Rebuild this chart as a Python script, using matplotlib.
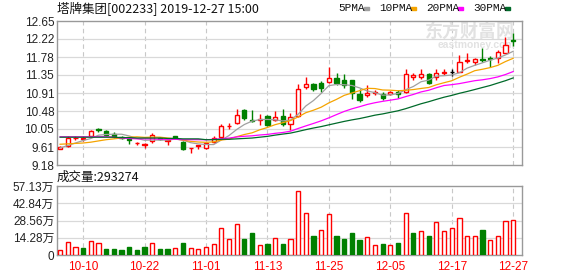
import numpy as np
import pandas as pd
import matplotlib
matplotlib.use("Agg")
import matplotlib.pyplot as plt

plt.rcParams['font.family'] = ['Liberation Sans', 'Noto Sans CJK SC', 'DejaVu Sans']

dates = ["09-30", "10-08", "10-09", "10-10", "10-11", "10-14", "10-15", "10-16", "10-17", "10-18",
         "10-21", "10-22", "10-23", "10-24", "10-25", "10-28", "10-29", "10-30", "10-31", "11-01",
         "11-04", "11-05", "11-06", "11-07", "11-08", "11-11", "11-12", "11-13", "11-14", "11-15",
         "11-18", "11-19", "11-20", "11-21", "11-22", "11-25", "11-26", "11-27", "11-28", "11-29",
         "12-02", "12-03", "12-04", "12-05", "12-06", "12-09", "12-10", "12-11", "12-12", "12-13",
         "12-16", "12-17", "12-18", "12-19", "12-20", "12-23", "12-24", "12-25", "12-26", "12-27"]

opens = [9.57, 9.63, 9.82, 9.80, 9.87, 10.04, 10.01, 9.93, 9.86, 9.80,
         9.70, 9.67, 9.76, 9.84, 9.77, 9.87, 9.74, 9.58, 9.64, 9.58,
         9.73, 9.86, 10.11, 10.19, 10.51, 10.26, 10.26, 10.37, 10.27, 10.37,
         10.17, 10.35, 11.07, 11.14, 11.16, 11.17, 11.28, 11.22, 11.22, 10.90,
         10.87, 10.91, 10.90, 10.89, 10.95, 10.94, 11.31, 11.30, 11.37, 11.30,
         11.40, 11.42, 11.43, 11.68, 11.65, 11.73, 11.76, 11.75, 11.89, 12.19]
highs = [9.63, 9.89, 9.89, 9.87, 10.03, 10.07, 10.03, 9.97, 9.88, 9.81,
         9.74, 9.70, 9.94, 9.86, 9.79, 9.89, 9.75, 9.60, 9.67, 9.72,
         9.89, 10.18, 10.19, 10.53, 10.53, 10.51, 10.42, 10.39, 10.49, 10.53,
         10.43, 11.12, 11.30, 11.15, 11.20, 11.54, 11.40, 11.37, 11.24, 11.01,
         11.11, 10.99, 10.95, 10.97, 10.99, 11.49, 11.40, 11.49, 11.40, 11.49,
         11.49, 11.49, 11.83, 11.87, 11.76, 11.99, 11.80, 11.94, 12.27, 12.37]
lows = [9.56, 9.62, 9.78, 9.77, 9.86, 9.98, 9.88, 9.84, 9.80, 9.68,
        9.66, 9.58, 9.72, 9.79, 9.65, 9.80, 9.55, 9.48, 9.57, 9.57,
        9.72, 9.85, 10.05, 10.18, 10.27, 10.21, 10.15, 10.11, 10.23, 10.11,
        10.02, 10.33, 11.01, 10.96, 10.95, 11.15, 11.11, 11.03, 10.76, 10.71,
        10.83, 10.86, 10.75, 10.86, 10.80, 10.92, 11.24, 11.25, 11.14, 11.23,
        11.36, 11.32, 11.42, 11.63, 11.60, 11.67, 11.55, 11.63, 11.87, 12.04]
closes = [9.62, 9.82, 9.84, 9.82, 9.99, 10.02, 9.91, 9.87, 9.82, 9.78,
          9.72, 9.69, 9.90, 9.81, 9.78, 9.84, 9.57, 9.59, 9.66, 9.71,
          9.83, 10.12, 10.13, 10.39, 10.31, 10.24, 10.30, 10.15, 10.34, 10.18,
          10.34, 11.01, 11.14, 11.00, 11.03, 11.28, 11.15, 11.11, 10.91, 10.74,
          10.91, 10.95, 10.80, 10.95, 10.90, 11.37, 11.34, 11.37, 11.15, 11.39,
          11.41, 11.42, 11.65, 11.70, 11.73, 11.71, 11.74, 11.91, 12.07, 12.17]

# volume in 万 (10k shares)
volumes = [4.1, 10.5, 6.3, 6.1, 11.3, 9.7, 5.0, 5.0, 4.1, 6.3,
           4.1, 6.6, 9.7, 5.0, 5.0, 5.5, 9.9, 5.5, 4.7, 6.3,
           8.8, 22.1, 13.0, 25.4, 13.2, 18.2, 8.3, 9.1, 13.8, 9.1,
           13.0, 53.0, 34.8, 15.7, 20.7, 33.9, 15.7, 13.2, 18.2, 12.7,
           14.6, 8.0, 9.1, 8.0, 9.9, 34.8, 18.2, 19.9, 15.7, 27.3,
           19.9, 22.4, 30.4, 15.5, 15.5, 20.7, 12.4, 15.5, 28.2, 29.3274]

# moving average values read off the chart where the window has no history yet
ma_heads = {
    5: [9.59, 9.65, 9.71, 9.77],
    10: [9.68, 9.69, 9.70, 9.71, 9.73, 9.76, 9.79, 9.81, 9.83],
    20: [9.86, 9.86, 9.86, 9.86, 9.86, 9.86, 9.86, 9.85, 9.83, 9.82,
         9.81, 9.81, 9.81, 9.80, 9.80, 9.80, 9.79, 9.79, 9.79],
    30: [9.85, 9.85, 9.85, 9.85, 9.85, 9.85, 9.85, 9.85, 9.84, 9.84,
         9.83, 9.83, 9.83, 9.83, 9.82, 9.82, 9.81, 9.81, 9.81, 9.79,
         9.79, 9.80, 9.80, 9.81, 9.82, 9.83, 9.85, 9.87, 9.90],
}
ma_colors = {5: "#a0a0a0", 10: "#f5a400", 20: "#ff00ff", 30: "#006a2a"}

price_ticks = [9.18, 9.61, 10.05, 10.48, 10.91, 11.35, 11.78, 12.22, 12.65]
vol_ticks = [0, 14.28, 28.56, 42.84, 57.13]
vol_labels = ["0", "14.28万", "28.56万", "42.84万", "57.13万"]
tick_dates = ["10-10", "10-22", "11-01", "11-13", "11-25", "12-05", "12-17", "12-27"]

RED = "#ff0000"
GREEN = "#008000"
SPINE = "#999999"
GRID = "#d9d9d9"

o = np.array(opens)
h = np.array(highs)
l = np.array(lows)
c = np.array(closes)
v = np.array(volumes)
x = np.arange(len(c))

cndl_col = np.where(c > o, RED, np.where(c < o, GREEN, "#000000"))
cndl_face = np.where(c > o, "white", cndl_col)
prev = np.concatenate([[o[0]], c[:-1]])
vol_up = c >= prev
vol_col = np.where(vol_up, RED, GREEN)
vol_face = np.where(vol_up, "white", GREEN)

fig = plt.figure(figsize=(5.78, 2.76), dpi=100)
ax = fig.add_axes([57 / 578, 1 - 165 / 276, 465 / 578, 144 / 276])
axv = fig.add_axes([57 / 578, 1 - 255 / 276, 465 / 578, 69 / 276])

tick_pos = [dates.index(d) for d in tick_dates]
for a in (ax, axv):
    a.set_xlim(-0.4, 60.15)
    for s in a.spines.values():
        s.set_color(SPINE)
        s.set_linewidth(1)
    for p in tick_pos:
        a.axvline(p, color="#c8c8c8", lw=0.8, ls=(0, (4, 3)), zorder=0)
    a.tick_params(length=0, pad=2, labelsize=8.5, colors="#222222")

# price panel
ax.set_ylim(9.18, 12.65)
ax.set_yticks(price_ticks)
ax.set_yticklabels(["%.2f" % t for t in price_ticks])
for t in price_ticks[1:-1]:
    ax.axhline(t, color=GRID, lw=0.9, zorder=0)
ax.set_xticks([])

ax.vlines(x, l, h, colors=cndl_col, lw=1, zorder=2)
body_h = np.maximum(np.abs(c - o), 0.006)
ax.bar(x, body_h, bottom=np.minimum(o, c), width=0.55, color=cndl_face,
       edgecolor=cndl_col, linewidth=1, zorder=3)

cs = pd.Series(c)
for n, col in ma_colors.items():
    ma = cs.rolling(n).mean().to_numpy()
    ma[:n - 1] = ma_heads[n]
    ax.plot(x, ma, color=col, lw=0.9, zorder=4)

# watermark
ax.text(0.985, 0.93, "东方财富网", transform=ax.transAxes, ha="right", va="center",
        fontsize=13, fontweight="bold", color="#e2e2e2", family=["Noto Sans CJK SC"], zorder=1)
ax.text(0.985, 0.83, "eastmoney.com", transform=ax.transAxes, ha="right", va="center",
        fontsize=7.5, fontweight="bold", color="#e2e2e2", zorder=1)

# volume panel
axv.set_ylim(0, 57.13)
axv.set_yticks(vol_ticks)
axv.set_yticklabels(vol_labels)
for t in vol_ticks[1:-1]:
    axv.axhline(t, color=GRID, lw=0.9, zorder=0)
axv.bar(x, v, width=0.55, color=vol_face, edgecolor=vol_col, linewidth=1, zorder=3)
axv.set_xticks(tick_pos)
axv.set_xticklabels(tick_dates, color=RED, fontsize=8.5)
axv.tick_params(axis="x", pad=4)

# header texts
fig.text(57 / 578, 1 - 9 / 276, "塔牌集团[002233] 2019-12-27 15:00", ha="left", va="center",
         fontsize=9, color="#111111", family=["Noto Sans CJK SC", "DejaVu Sans"])
fig.text(57 / 578, 1 - 177 / 276, "成交量:%d" % round(volumes[-1] * 10000), ha="left", va="center",
         fontsize=9, color="#111111", family=["Noto Sans CJK SC", "DejaVu Sans"])

lx = 338
for n, col in ma_colors.items():
    t = fig.text(lx / 578, 1 - 8 / 276, "%dPMA" % n, ha="left", va="center",
                 fontsize=8, color="#111111", family=["Liberation Mono"])
    w = {5: 26, 10: 32, 20: 32, 30: 32}[n]
    fig.patches.append(plt.Rectangle(((lx + w) / 578, 1 - 10 / 276), 5 / 578, 3 / 276,
                                     transform=fig.transFigure, color=col, figure=fig))
    lx += w + 15

fig.savefig("out.png", dpi=100)
